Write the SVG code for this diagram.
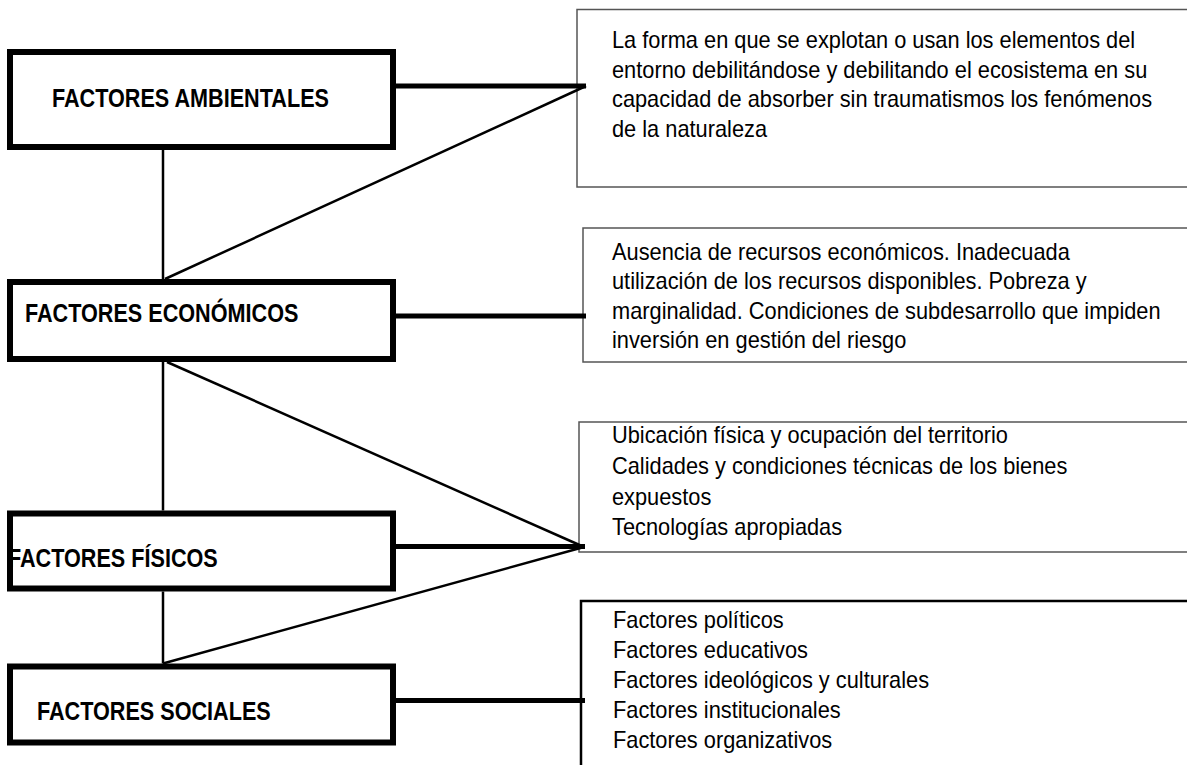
<svg xmlns="http://www.w3.org/2000/svg" width="1187" height="765" viewBox="0 0 1187 765">
<style>
.factor rect{fill:#fff;stroke:#000;stroke-width:6}
.lbl{font-family:"Liberation Sans",Arial,sans-serif;font-weight:bold;font-size:25px;fill:#000}
.desc rect{fill:none;stroke:#555;stroke-width:1.5}
.desc.dark rect{stroke:#000;stroke-width:2.5}
.txt{font-family:"Liberation Sans",Arial,sans-serif;font-size:23px;fill:#000}
.thick{stroke:#000;stroke-width:5;fill:none}
.thin{stroke:#000;stroke-width:2.5;fill:none}
</style>
<rect width="1187" height="765" fill="#fff"/>
<g id="factor-ambientales" class="factor">
<rect x="10" y="52" width="383" height="95"/>
<text class="lbl" transform="translate(52,107) scale(0.865,1)">FACTORES AMBIENTALES</text>
</g>
<g id="factor-economicos" class="factor">
<rect x="10" y="282" width="383" height="77"/>
<text class="lbl" transform="translate(25,322) scale(0.865,1)">FACTORES ECONÓMICOS</text>
</g>
<g id="factor-fisicos" class="factor">
<rect x="10" y="513.5" width="383" height="75"/>
<text class="lbl" transform="translate(8,567) scale(0.865,1)">FACTORES FÍSICOS</text>
</g>
<g id="factor-sociales" class="factor">
<rect x="10" y="666.5" width="383" height="76"/>
<text class="lbl" transform="translate(37,720) scale(0.865,1)">FACTORES SOCIALES</text>
</g>
<g id="desc-ambientales" class="desc">
<rect x="577" y="9.5" width="620" height="177.5"/>
<g transform="translate(612,0) scale(0.948,1)">
<text class="txt"><tspan x="0" y="48">La forma en que se explotan o usan los elementos del</tspan><tspan x="0" y="78">entorno debilitándose y debilitando el ecosistema en su</tspan><tspan x="0" y="107">capacidad de absorber sin traumatismos los fenómenos</tspan><tspan x="0" y="137">de la naturaleza</tspan></text>
</g>
</g>
<g id="desc-economicos" class="desc">
<rect x="583" y="228" width="620" height="134"/>
<g transform="translate(612,0) scale(0.948,1)">
<text class="txt"><tspan x="0" y="260">Ausencia de recursos económicos. Inadecuada</tspan><tspan x="0" y="289">utilización de los recursos disponibles. Pobreza y</tspan><tspan x="0" y="319">marginalidad. Condiciones de subdesarrollo que impiden</tspan><tspan x="0" y="348">inversión en gestión del riesgo</tspan></text>
</g>
</g>
<g id="desc-fisicos" class="desc">
<rect x="579" y="422" width="620" height="130"/>
<g transform="translate(612,0) scale(0.948,1)">
<text class="txt"><tspan x="0" y="443">Ubicación física y ocupación del territorio</tspan><tspan x="0" y="474">Calidades y condiciones técnicas de los bienes</tspan><tspan x="0" y="505">expuestos</tspan><tspan x="0" y="535">Tecnologías apropiadas</tspan></text>
</g>
</g>
<g id="desc-sociales" class="desc dark">
<rect x="581" y="601" width="620" height="200"/>
<g transform="translate(613,0) scale(0.948,1)">
<text class="txt"><tspan x="0" y="628">Factores políticos</tspan><tspan x="0" y="658">Factores educativos</tspan><tspan x="0" y="688">Factores ideológicos y culturales</tspan><tspan x="0" y="718">Factores institucionales</tspan><tspan x="0" y="748">Factores organizativos</tspan></text>
</g>
</g>
<g id="connectors">
<line class="thick" x1="396" y1="86" x2="586" y2="86"/>
<line class="thick" x1="396" y1="316" x2="586" y2="316"/>
<line class="thick" x1="396" y1="546.5" x2="585" y2="546.5"/>
<line class="thick" x1="396" y1="700.5" x2="585" y2="700.5"/>
<line class="thin" x1="163" y1="150" x2="163" y2="279"/>
<line class="thin" x1="163" y1="362" x2="163" y2="510.5"/>
<line class="thin" x1="163" y1="591.5" x2="163" y2="663.5"/>
<line class="thin" x1="586" y1="86" x2="165" y2="279"/>
<line class="thin" x1="167" y1="362" x2="584" y2="547"/>
<line class="thin" x1="584" y1="547" x2="163" y2="663.5"/>
</g>
</svg>
